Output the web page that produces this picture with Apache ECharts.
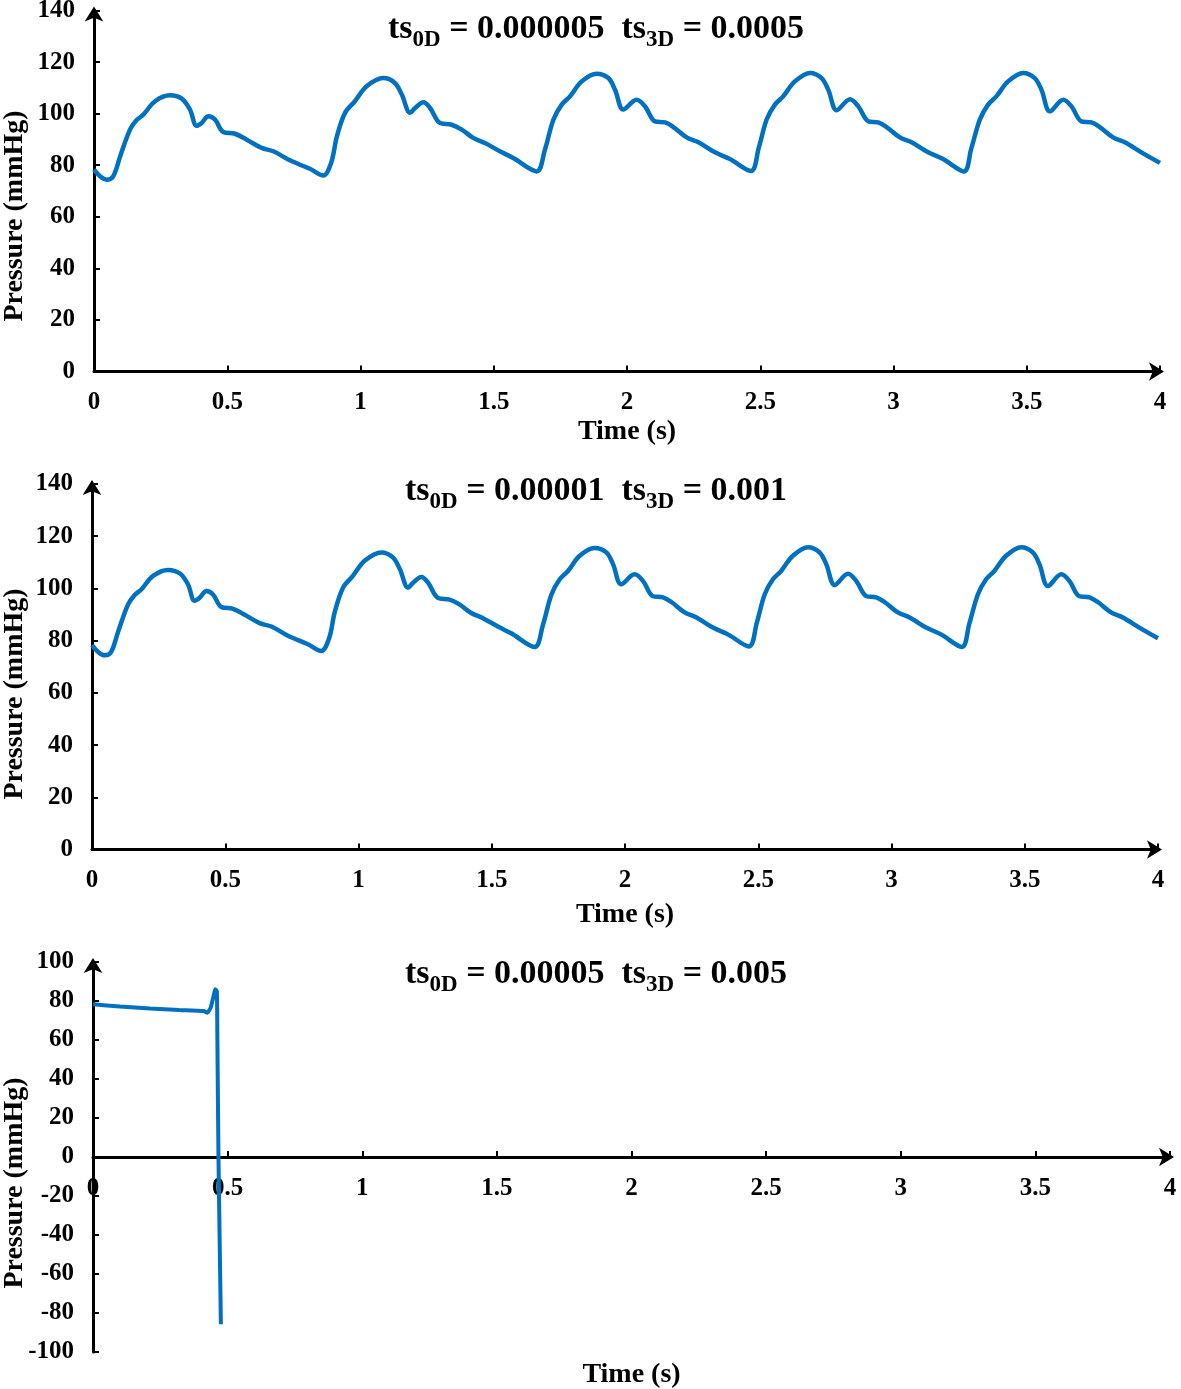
<!DOCTYPE html>
<html>
<head>
<meta charset="utf-8">
<script src="https://cdn.jsdelivr.net/npm/echarts@6/dist/echarts.min.js"></script>
<style>
html,body{margin:0;padding:0;background:#fff;}
#chart{width:1181px;height:1389px;}
</style>
</head>
<body>
<div id="chart"></div>
<script>
// ---- Data (time in s, pressure in mmHg) ----
const timeStable = [
  0, 0.025, 0.048, 0.072, 0.098, 0.135, 0.16, 0.185, 0.229, 0.285, 0.329, 0.36, 0.385, 0.404, 0.429, 0.454, 0.485, 0.529, 0.573, 0.629, 0.673, 0.735, 0.81, 0.86,
  0.89, 0.911, 0.942, 0.979, 1.023, 1.086, 1.129, 1.155, 1.186, 1.205, 1.236, 1.261, 1.298, 1.342, 1.38, 1.423, 1.467, 1.523, 1.573, 1.661,
  1.692, 1.724, 1.755, 1.786, 1.83, 1.886, 1.93, 1.955, 1.986, 2.036, 2.068, 2.105, 2.143, 2.174, 2.224, 2.268, 2.33, 2.386, 2.465,
  2.495, 2.524, 2.555, 2.586, 2.63, 2.687, 2.73, 2.755, 2.787, 2.837, 2.868, 2.906, 2.943, 2.974, 3.024, 3.068, 3.13, 3.186, 3.264,
  3.292, 3.324, 3.355, 3.386, 3.43, 3.487, 3.53, 3.555, 3.587, 3.637, 3.668, 3.705, 3.743, 3.774, 3.824, 3.868, 3.93, 4.0
];
const pressureTs1 = [
  78.3, 75.5, 74.4, 75.7, 83.4, 93.8, 97.5, 99.6, 104.8, 107.1, 105.8, 101.6, 95.3, 96.4, 99.0, 97.7, 92.9, 92.2, 89.9, 86.7, 85.4, 81.9, 78.6, 76.0,
  81.0, 91.0, 100.3, 104.8, 110.6, 113.8, 111.9, 107.4, 100.3, 102.2, 104.4, 102.2, 96.4, 95.7, 93.8, 90.6, 88.6, 85.4, 82.8, 77.6,
  86.0, 97.7, 103.5, 106.7, 112.5, 115.5, 113.8, 109.3, 101.6, 105.4, 102.8, 97.0, 96.6, 94.8, 90.8, 88.9, 85.0, 82.4, 77.8,
  87.0, 97.7, 103.5, 106.7, 112.5, 115.8, 113.8, 109.3, 101.3, 105.6, 102.8, 97.0, 96.6, 94.8, 90.8, 88.9, 85.0, 82.4, 77.6,
  86.5, 97.7, 103.5, 106.7, 112.5, 115.8, 113.8, 109.3, 100.9, 105.4, 102.8, 97.0, 96.6, 94.8, 90.8, 88.9, 85.0, 80.9
];
const pressureTs2 = pressureTs1.slice(); // second run is visually identical
const timeUnstable = [0, 0.1, 0.212, 0.32, 0.41, 0.425, 0.437, 0.447, 0.454, 0.46, 0.462, 0.466, 0.475];
const pressureTs3 = [78.3, 77.2, 76.1, 75.4, 74.9, 74.0, 76.6, 82.0, 86.0, 85.0, 60.0, 0, -85.8];

const titles = [
  ['0D', '0.000005', '3D', '0.0005'],
  ['0D', '0.00001', '3D', '0.001'],
  ['0D', '0.00005', '3D', '0.005']
];

function pairs(t, p) { return t.map((v, i) => [v, p[i]]); }

const FONT = '"Liberation Serif", "Times New Roman", serif';
const BLUE = '#0070C0';

const grids = [
  {left: 94, top: 10.5, width: 1066, height: 361, outerBoundsMode: 'none', containLabel: false},
  {left: 92, top: 484, width: 1066, height: 365.5, outerBoundsMode: 'none', containLabel: false},
  {left: 93, top: 962, width: 1077, height: 390, outerBoundsMode: 'none', containLabel: false}
];
const yRanges = [[0, 140], [0, 140], [-100, 100]];
const nameGaps = [46, 51, 204];
const xOffsets = [0, 0, -195];
const series = [pairs(timeStable, pressureTs1), pairs(timeStable, pressureTs2), pairs(timeUnstable, pressureTs3)];
const titleY = [1, 463, 946];
const yNameY = [216, 694, 1183];

const axisLineStyle = {color: '#000', width: 3};
const option = {
  animation: false,
  backgroundColor: '#fff',
  title: titles.map((tt, i) => ({
    left: 591, top: titleY[i], textAlign: 'center',
    text: '{m|ts}{s|' + tt[0] + '}{m| = ' + tt[1] + '  ts}{s|' + tt[2] + '}{m| = ' + tt[3] + '}',
    textStyle: {
      rich: {
        m: {fontFamily: FONT, fontWeight: 'bold', fontSize: 34, color: '#000', lineHeight: 46, verticalAlign: 'middle'},
        s: {fontFamily: FONT, fontWeight: 'bold', fontSize: 23, color: '#000', lineHeight: 20, verticalAlign: 'bottom'}
      }
    }
  })),
  grid: grids,
  xAxis: grids.map((g, i) => ({
    type: 'value', gridIndex: i, min: 0, max: 4, interval: 0.5,
    offset: xOffsets[i],
    name: 'Time (s)', nameLocation: 'middle', nameGap: nameGaps[i],
    nameTextStyle: {fontFamily: FONT, fontWeight: 'bold', fontSize: 28, color: '#000'},
    axisLine: {show: true, onZero: false, lineStyle: axisLineStyle, symbol: ['none', 'arrow'], symbolSize: [14, 15], symbolOffset: [0, 4]},
    axisTick: {show: true, inside: true, length: 6, lineStyle: {color: '#000', width: 2}},
    axisLabel: {show: true, margin: 19, fontFamily: FONT, fontWeight: 'bold', fontSize: 25, color: '#000', showMaxLabel: true, showMinLabel: true,
      formatter: v => String(v)},
    splitLine: {show: false}
  })),
  yAxis: grids.map((g, i) => ({
    type: 'value', gridIndex: i, min: yRanges[i][0], max: yRanges[i][1], interval: 20,
    axisLine: {show: true, onZero: false, lineStyle: axisLineStyle, symbol: ['none', 'arrow'], symbolSize: [14, 15], symbolOffset: [0, 4]},
    axisTick: {show: true, inside: true, length: 6, lineStyle: {color: '#000', width: 2}},
    axisLabel: {show: true, margin: 19, fontFamily: FONT, fontWeight: 'bold', fontSize: 25, color: '#000', showMaxLabel: true, showMinLabel: true},
    splitLine: {show: false}
  })),
  series: series.map((d, i) => ({
    type: 'line', xAxisIndex: i, yAxisIndex: i, data: d,
    showSymbol: false, smooth: i === 2 ? 0.15 : 0.35,
    lineStyle: {color: BLUE, width: i === 2 ? 4 : 4.5},
    clip: false
  })),
  graphic: yNameY.map((y, i) => ({
    type: 'text', x: 15, y: y, rotation: Math.PI / 2,
    style: {text: 'Pressure (mmHg)', fontFamily: FONT, fontWeight: 'bold', fontSize: 28, fill: '#000', align: 'center', verticalAlign: 'middle'}
  }))
};
const chart = echarts.init(document.getElementById('chart'), null, {renderer: 'canvas'});
chart.setOption(option);
</script>
</body>
</html>
